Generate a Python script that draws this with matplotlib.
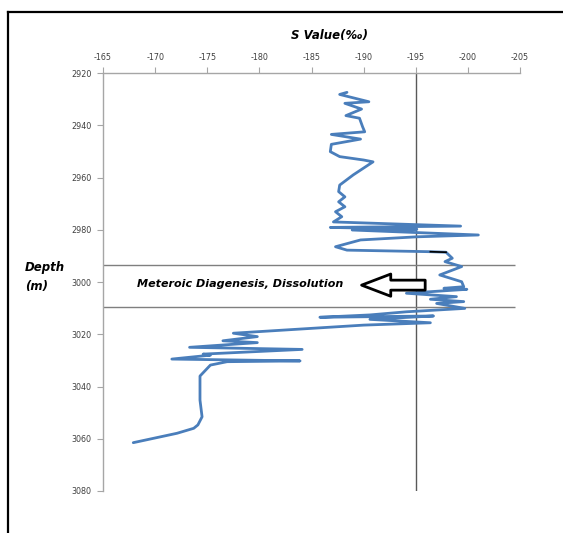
import matplotlib
matplotlib.use('Agg')
import matplotlib.pyplot as plt
from matplotlib.lines import Line2D

plt.rcParams['axes.unicode_minus'] = False

# S isotope log
depth = [2927.4, 2928.2, 2931.0, 2931.6, 2933.8, 2936.3, 2937.3, 2940.6, 2942.5, 2943.5,
         2945.3, 2947.3, 2950.1, 2952.0, 2953.3, 2954.0, 2959.0, 2962.9, 2965.4, 2967.4,
         2969.3, 2971.2, 2973.1, 2975.0, 2977.0, 2978.6, 2979.1, 2979.8, 2980.1, 2982.0,
         2982.7, 2983.9, 2986.5, 2987.8, 2988.4, 2988.6, 2990.9, 2992.2, 2994.1, 2997.3,
         2999.9, 3001.8, 3002.4, 3002.8, 3004.3, 3005.6, 3006.6, 3007.5, 3008.2, 3010.1,
         3011.4, 3012.6, 3013.5, 3013.0, 3014.3, 3015.6, 3016.5, 3019.6, 3020.9, 3022.5,
         3023.2, 3025.0, 3025.8, 3027.6, 3028.0, 3029.5, 3030.2, 3030.5, 3031.8, 3036.0,
         3045.2, 3051.6, 3054.7, 3056.0, 3057.9, 3061.5]
s_value = [-188.4, -187.7, -190.5, -188.2, -189.8, -188.3, -189.6, -189.9, -190.1, -186.9,
           -189.7, -186.9, -186.8, -187.7, -190.0, -190.9, -189.0, -187.7, -187.6, -188.2,
           -187.6, -188.2, -187.3, -187.9, -187.1, -199.3, -186.8, -195.1, -188.9, -201.0,
           -195.1, -189.7, -187.3, -188.4, -196.4, -197.9, -198.5, -197.8, -199.4, -197.3,
           -199.4, -199.6, -197.7, -199.9, -194.1, -198.9, -196.4, -199.6, -197.0, -199.7,
           -194.1, -190.6, -185.8, -196.7, -190.6, -196.4, -190.0, -177.5, -179.8, -176.5,
           -179.8, -173.3, -184.1, -174.6, -175.3, -171.6, -183.9, -176.9, -175.3, -174.3,
           -174.3, -174.5, -174.1, -173.7, -172.1, -167.9]
black_seg = [34, 36]  # short black piece of the log near 2988 m

x_ticks = [-165, -170, -175, -180, -185, -190, -195, -200, -205]
y_ticks = [2920, 2940, 2960, 2980, 3000, 3020, 3040, 3060, 3080]
zone_top, zone_bottom = 2993.5, 3009.6
ref_value = -195

blue = '#4a7ebb'
axis_grey = '#a6a6a6'
line_grey = '#7f7f7f'

fig = plt.figure(figsize=(5.63, 5.33), dpi=100)
ax = fig.add_axes([0.183, 0.0788, 0.7407, 0.7842])

ax.plot(s_value, depth, color=blue, lw=2.0, solid_joinstyle='round', solid_capstyle='round', zorder=3)
ax.plot(s_value[black_seg[0]:black_seg[1]], depth[black_seg[0]:black_seg[1]],
        color='black', lw=1.2, zorder=4)

ax.axvline(ref_value, color='#595959', lw=1.0, zorder=2)
ax.hlines([zone_top, zone_bottom], -165, -204.5, color=line_grey, lw=1.0, zorder=2)

ax.set_xlim(-165, -205)
ax.set_ylim(3080, 2920)
ax.set_xticks(x_ticks)
ax.set_yticks(y_ticks)
ax.xaxis.tick_top()
ax.tick_params(axis='both', direction='out', length=4, width=0.8, color=axis_grey,
               labelsize=5.8, labelcolor='#404040', pad=4)
for side in ['right', 'bottom']:
    ax.spines[side].set_visible(False)
for side in ['left', 'top']:
    ax.spines[side].set_color(axis_grey)
    ax.spines[side].set_linewidth(1.0)

ax.text(-168.3, 3000.8, 'Meteroic Diagenesis, Dissolution', fontsize=8.0,
        fontweight='bold', style='italic', ha='left', va='center')
ax.annotate('', xy=(-189.8, 3001.2), xytext=(-195.9, 3001.2),
            arrowprops=dict(arrowstyle='simple,head_length=1.05,head_width=0.8,tail_width=0.36',
                            mutation_scale=20, fc='white', ec='black', lw=2,
                            shrinkA=0, shrinkB=0), zorder=5)

fig.text(0.586, 0.934, 'S Value(‰)', fontsize=8.5, fontweight='bold', style='italic',
         ha='center', va='center')
fig.text(0.044, 0.498, 'Depth', fontsize=8.5, fontweight='bold', style='italic',
         ha='left', va='center')
fig.text(0.044, 0.463, '(m)', fontsize=8.5, fontweight='bold', style='italic',
         ha='left', va='center')

# outer frame (left and top only)
fig.add_artist(Line2D([8 / 563, 8 / 563], [0, 1 - 12 / 533], color='black', lw=1.6))
fig.add_artist(Line2D([8 / 563, 1], [1 - 12 / 533, 1 - 12 / 533], color='black', lw=1.6))

plt.savefig('out.png', dpi=100)
plt.close()
